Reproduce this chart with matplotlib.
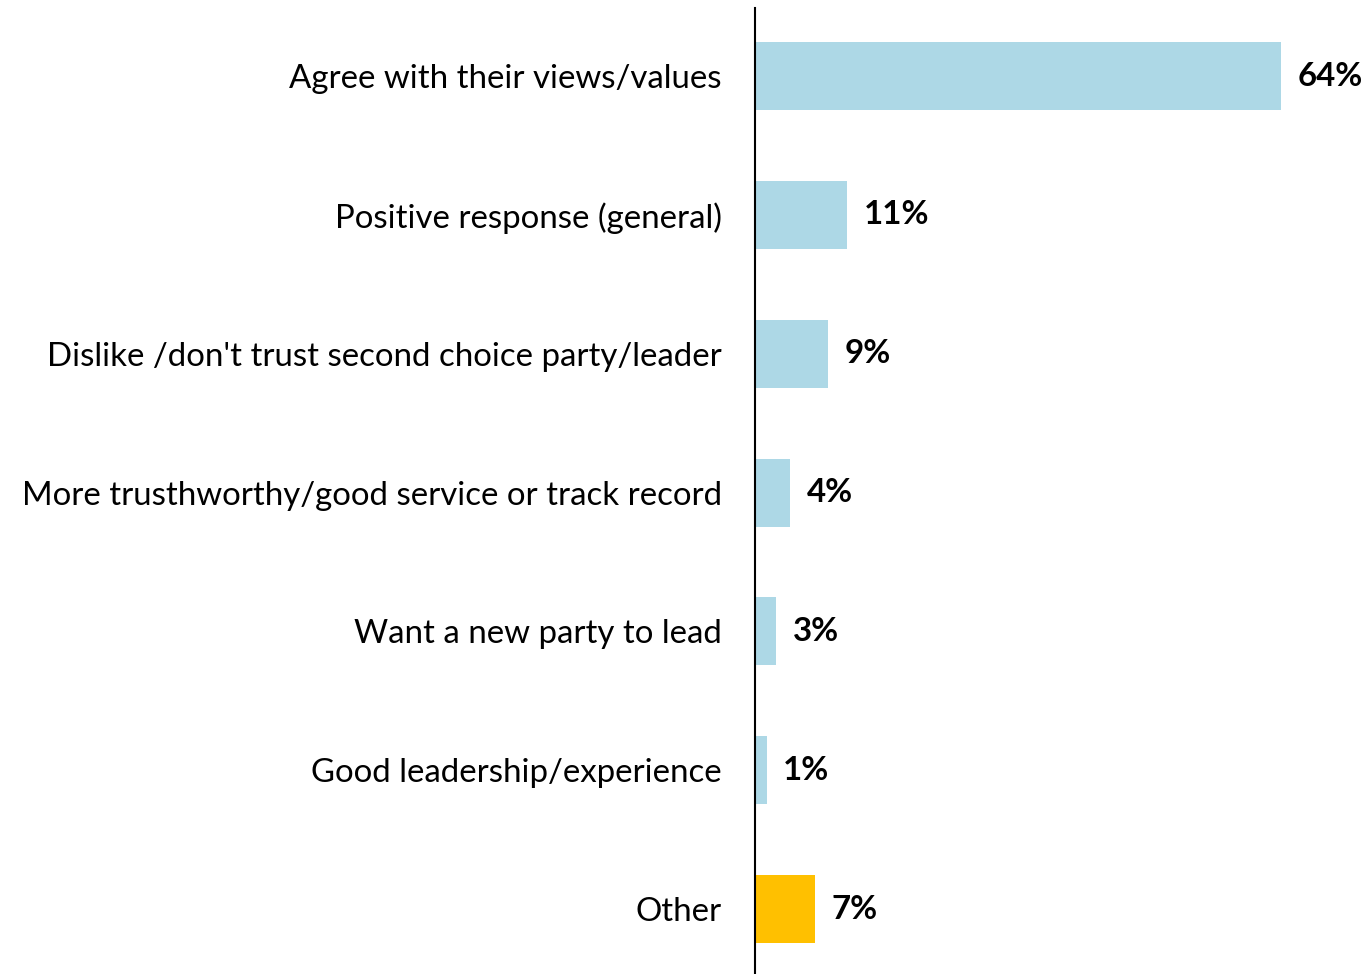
import matplotlib.pyplot as plt

categories = ["Agree with their views/values",
              "Positive response (general)",
              "Dislike /don't trust second choice party/leader",
              "More trusthworthy/good service or track record",
              "Want a new party to lead",
              "Good leadership/experience",
              "Other"]
values = [64, 11.2, 8.9, 4.3, 2.6, 1.4, 7.3]
labels = ["64%", "11%", "9%", "4%", "3%", "1%", "7%"]
colors = ["#ADD8E6"] * 6 + ["#FFC000"]

plt.rcParams['font.family'] = ['Lato', 'DejaVu Sans']

fig = plt.figure(figsize=(13.68, 9.74), dpi=100)
ax = fig.add_axes([755 / 1368, 0, 1 - 755 / 1368, 1 - 8 / 974])

pos = list(range(len(categories)))
ax.barh(pos, values, height=0.49, color=colors)
for p, v, lab in zip(pos, values, labels):
    ax.text(v + 2.0, p, lab, va='center', ha='left', fontsize=23.8, fontweight='bold')

ax.set_xlim(0, 74.6)
ax.set_ylim(6.468, -0.49)
ax.set_yticks(pos)
ax.set_yticklabels(categories, fontsize=23.8)
ax.tick_params(axis='y', length=0, pad=24)
ax.set_xticks([])
for s in ['top', 'right', 'bottom']:
    ax.spines[s].set_visible(False)
ax.spines['left'].set_linewidth(1.5)

fig.savefig('out.png', dpi=100)
